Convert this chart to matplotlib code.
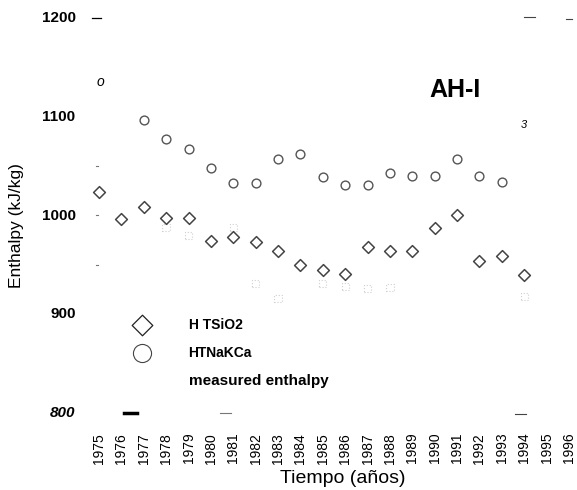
import matplotlib

matplotlib.use("Agg")
import matplotlib.pyplot as plt

plt.rcParams["font.family"] = ["Liberation Sans", "DejaVu Sans"]

# Enthalpy (kJ/kg) per year, well AH-I
years = list(range(1975, 1997))
ht_sio2_years = list(range(1975, 1995))
ht_sio2 = [1024, 996, 1009, 997, 997, 974, 978, 973, 964, 950,
           945, 941, 968, 964, 964, 987, 1001, 954, 959, 940]
ht_nakca_years = list(range(1977, 1994))
ht_nakca = [1097, 1077, 1067, 1048, 1033, 1033, 1057, 1062,
            1039, 1031, 1031, 1043, 1040, 1040, 1057, 1040, 1034]
measured_years = [1978, 1979, 1981, 1982, 1983, 1985, 1986, 1987, 1988, 1994]
measured = [988, 980, 988, 931, 916, 931, 928, 926, 927, 918]
y_ticks = [800, 900, 1000, 1100, 1200]

fig = plt.figure(figsize=(5.77, 4.90), dpi=100)
ax = fig.add_axes([99 / 577, 77 / 490, 470 / 577, 395 / 490])
ax.set_xlim(1975, 1996)
ax.set_ylim(800, 1200)
ax.set_axis_off()

# faint measured values
ax.scatter(measured_years, measured, marker="s", s=28, facecolors="none",
           edgecolors="#d0d0d0", linewidths=0.8, linestyles=":", clip_on=False)
ax.scatter(ht_nakca_years, ht_nakca, marker="o", s=40, facecolors="white",
           edgecolors="#555555", linewidths=1.0, clip_on=False, zorder=3)
ax.scatter(ht_sio2_years, ht_sio2, marker="D", s=36, facecolors="white",
           edgecolors="#444444", linewidths=1.1, clip_on=False, zorder=3)

# y tick labels
for v in y_ticks:
    style = "italic" if v == 800 else "normal"
    ax.text(1973.95, v, str(v), ha="right", va="center", fontsize=11,
            fontweight="bold", style=style, clip_on=False)
for v in [1050, 1000, 950]:
    ax.plot([1974.85, 1974.95], [v, v], color="#777777", lw=0.8, clip_on=False)
ax.plot([1974.7, 1975.1], [1200, 1200], color="black", lw=0.9, clip_on=False)

# x tick labels
for yr in years:
    ax.text(yr, 780, str(yr), rotation=90, ha="center", va="top",
            fontsize=10, clip_on=False)

ax.text(1971.3, 990, "Enthalpy (kJ/kg)", rotation=90, ha="center",
        va="center", fontsize=12.5)
fig.text(343 / 577, 1 - 478 / 490, "Tiempo (años)", ha="center", va="center",
         fontsize=14)

ax.text(1990.9, 1127, "AH-I", ha="center", va="center", fontsize=18,
        fontweight="bold")
ax.text(1975.05, 1135, "o", style="italic", fontsize=10, ha="center",
        va="center")
ax.text(1994.0, 1092, "3", style="italic", fontsize=8, ha="center",
        va="center")

# legend
ax.scatter([1976.9], [889], marker="D", s=110, facecolors="white",
           edgecolors="#222222", linewidths=0.9, clip_on=False)
ax.scatter([1976.9], [861], marker="o", s=170, facecolors="white",
           edgecolors="#444444", linewidths=0.8, clip_on=False)
for yv, label, size in [(889, "H TSiO2", 10), (861, "HTNaKCa", 10),
                        (832, "measured enthalpy", 11)]:
    ax.text(1979.0, yv, label, ha="left", va="center", fontsize=size,
            fontweight="bold")

# remains of the frame
ax.plot([1976.1, 1976.7], [800, 800], color="black", lw=2.5, clip_on=False)
ax.plot([1980.4, 1980.9], [800, 800], color="#777777", lw=0.8, clip_on=False)
ax.plot([1993.6, 1994.1], [799, 799], color="#444444", lw=0.8, clip_on=False)
ax.plot([1994.0, 1994.5], [1201, 1201], color="#444444", lw=0.8, clip_on=False)
ax.plot([1995.85, 1996.15], [1199, 1199], color="#444444", lw=0.8, clip_on=False)

fig.savefig("out.png", dpi=100, facecolor="white")
